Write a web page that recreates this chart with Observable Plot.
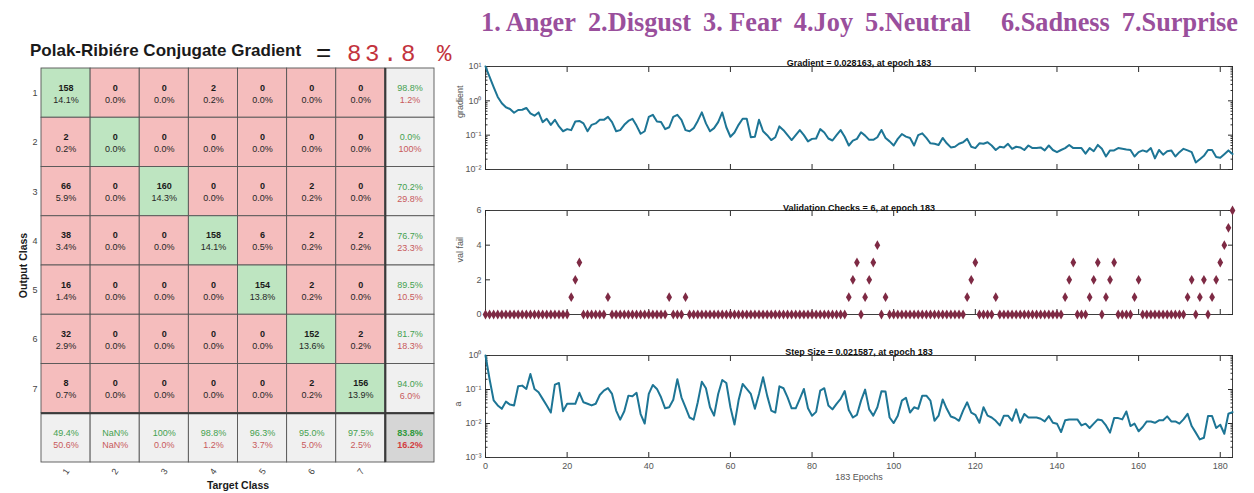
<!DOCTYPE html>
<html>
<head>
<meta charset="utf-8">
<title>Polak-Ribiére Conjugate Gradient</title>
<script src="https://cdn.jsdelivr.net/npm/d3@7"></script>
<script src="https://cdn.jsdelivr.net/npm/@observablehq/plot@0.6"></script>
<style>
  html, body { margin: 0; padding: 0; background: #fff; }
  #page { position: relative; width: 1254px; height: 493px; overflow: hidden; background: #fff;
          font-family: "Liberation Sans", Arial, sans-serif; }
  .block { position: absolute; line-height: 1; white-space: pre; }
  .wrap { position: absolute; }
  .wrap svg { display: block; }
  #legend { position: absolute; left: 481px; top: 8px; display: flex; white-space: pre; line-height: 1;
            font: bold 26.3px "Liberation Serif", "Times New Roman", serif; color: #9a4f9c; }
  #legend span { margin-right: 12px; }
  #legend span.wide { margin-right: 30px; }
</style>
</head>
<body>
<div id="page"></div>
<script>
// ---- class names (header) and matrix tick labels ----
const classLabels = ["1. Anger", "2.Disgust", "3. Fear", "4.Joy", "5.Neutral", "6.Sadness", "7.Surprise"];
const classTicks = ["1", "2", "3", "4", "5", "6", "7"];

// ---- confusion matrix counts: rows = output class, columns = target class ----
const counts = [
  [158, 0,   0,   2,   0,   0,   0],
  [2,   0,   0,   0,   0,   0,   0],
  [66,  0, 160,   0,   0,   2,   0],
  [38,  0,   0, 158,   6,   2,   2],
  [16,  0,   0,   0, 154,   2,   0],
  [32,  0,   0,   0,   0, 152,   2],
  [8,   0,   0,   0,   0,   2, 156]
];

// ---- training record, one value per epoch 0..183 ----
const gradient = [
  10, 5, 2.5, 1.3, 0.85, 0.65, 0.58, 0.45, 0.54, 0.55,
  0.62, 0.43, 0.37, 0.46, 0.24, 0.3, 0.2, 0.28, 0.18, 0.13,
  0.15, 0.14, 0.25, 0.26, 0.22, 0.13, 0.2, 0.22, 0.28, 0.28,
  0.34, 0.24, 0.13, 0.14, 0.2, 0.26, 0.3, 0.19, 0.11, 0.13,
  0.34, 0.39, 0.25, 0.24, 0.15, 0.17, 0.34, 0.39, 0.28, 0.14,
  0.13, 0.16, 0.26, 0.46, 0.22, 0.13, 0.16, 0.24, 0.46, 0.17,
  0.09, 0.12, 0.2, 0.3, 0.3, 0.087, 0.09, 0.28, 0.13, 0.1,
  0.072, 0.087, 0.18, 0.14, 0.1, 0.072, 0.1, 0.14, 0.1, 0.066,
  0.078, 0.08, 0.15, 0.12, 0.08, 0.07, 0.1, 0.14, 0.09, 0.05,
  0.069, 0.078, 0.121, 0.097, 0.073, 0.073, 0.087, 0.142, 0.083, 0.066,
  0.05, 0.078, 0.108, 0.091, 0.083, 0.05, 0.1, 0.113, 0.083, 0.058,
  0.056, 0.052, 0.083, 0.058, 0.044, 0.046, 0.056, 0.062, 0.078, 0.046,
  0.042, 0.058, 0.056, 0.062, 0.05, 0.037, 0.046, 0.044, 0.056, 0.04,
  0.046, 0.044, 0.037, 0.05, 0.042, 0.042, 0.044, 0.036, 0.05, 0.037,
  0.032, 0.037, 0.042, 0.052, 0.042, 0.042, 0.042, 0.029, 0.042, 0.034,
  0.052, 0.04, 0.024, 0.036, 0.036, 0.042, 0.04, 0.038, 0.037, 0.024,
  0.032, 0.036, 0.033, 0.042, 0.021, 0.037, 0.027, 0.034, 0.036, 0.024,
  0.032, 0.04, 0.036, 0.032, 0.016, 0.02, 0.025, 0.037, 0.037, 0.023,
  0.022, 0.028, 0.036, 0.028163
];

const valFail = [
  0, 0, 0, 0, 0, 0, 0, 0, 0, 0,
  0, 0, 0, 0, 0, 0, 0, 0, 0, 0,
  0, 1, 2, 3, 0, 0, 0, 0, 0, 0,
  1, 0, 0, 0, 0, 0, 0, 0, 0, 0,
  0, 0, 0, 0, 0, 1, 0, 0, 0, 1,
  0, 0, 0, 0, 0, 0, 0, 0, 0, 0,
  0, 0, 0, 0, 0, 0, 0, 0, 0, 0,
  0, 0, 0, 0, 0, 0, 0, 0, 0, 0,
  0, 0, 0, 0, 0, 0, 0, 0, 0, 1,
  2, 3, 0, 1, 2, 3, 4, 0, 1, 0,
  0, 0, 0, 0, 0, 0, 0, 0, 0, 0,
  0, 0, 0, 0, 0, 0, 0, 0, 1, 2,
  3, 0, 0, 0, 0, 1, 0, 0, 0, 0,
  0, 0, 0, 0, 0, 0, 0, 0, 0, 0,
  0, 0, 1, 2, 3, 0, 0, 0, 1, 2,
  3, 0, 1, 2, 3, 0, 0, 0, 0, 1,
  2, 0, 0, 0, 0, 0, 0, 0, 0, 0,
  0, 0, 1, 2, 0, 1, 2, 0, 1, 2,
  3, 4, 5, 6
];

const stepSize = [
  1, 0.2, 0.048, 0.034, 0.027, 0.044, 0.036, 0.034, 0.124, 0.13,
  0.104, 0.285, 0.104, 0.083, 0.053, 0.034, 0.021, 0.139, 0.155, 0.023,
  0.038, 0.038, 0.038, 0.08, 0.042, 0.038, 0.034, 0.038, 0.069, 0.093,
  0.11, 0.074, 0.024, 0.013, 0.023, 0.066, 0.063, 0.08, 0.019, 0.01,
  0.074, 0.136, 0.104, 0.059, 0.028, 0.03, 0.05, 0.2, 0.059, 0.03,
  0.015, 0.013, 0.042, 0.17, 0.109, 0.03, 0.017, 0.074, 0.19, 0.155,
  0.03, 0.0093, 0.048, 0.145, 0.104, 0.074, 0.027, 0.074, 0.23, 0.066,
  0.024, 0.021, 0.124, 0.109, 0.059, 0.028, 0.028, 0.053, 0.104, 0.028,
  0.017, 0.022, 0.093, 0.109, 0.034, 0.026, 0.038, 0.053, 0.09, 0.025,
  0.015, 0.018, 0.047, 0.099, 0.026, 0.017, 0.03, 0.089, 0.087, 0.015,
  0.0103, 0.017, 0.047, 0.057, 0.021, 0.03, 0.027, 0.066, 0.066, 0.047,
  0.012, 0.017, 0.051, 0.027, 0.016, 0.0145, 0.012, 0.024, 0.042, 0.021,
  0.018, 0.0105, 0.03, 0.017, 0.015, 0.012, 0.0088, 0.017, 0.017, 0.012,
  0.026, 0.0105, 0.019, 0.015, 0.015, 0.015, 0.0138, 0.0115, 0.0165, 0.0105,
  0.0099, 0.0056, 0.0124, 0.0132, 0.0132, 0.0132, 0.0088, 0.0099, 0.0074, 0.0099,
  0.0132, 0.0124, 0.0088, 0.0054, 0.0144, 0.0144, 0.0132, 0.0226, 0.0084, 0.0099,
  0.0059, 0.0079, 0.0115, 0.0115, 0.0105, 0.0124, 0.0124, 0.0162, 0.0115, 0.0115,
  0.0099, 0.0132, 0.0193, 0.0084, 0.0054, 0.0034, 0.0038, 0.0165, 0.0165, 0.0074,
  0.0092, 0.005, 0.0193, 0.021587
];

// ---------------------------------------------------------------------------
const page = document.getElementById("page");
const SANS = "'Liberation Sans', Arial, Helvetica, sans-serif";

function place(node, left, top, width) {
  const w = document.createElement("div");
  w.className = "wrap";
  w.style.left = left + "px";
  w.style.top = top + "px";
  if (width) w.style.width = width + "px";
  w.appendChild(node);
  page.appendChild(w);
}
function textBlock(str, left, top, css) {
  const d = document.createElement("div");
  d.className = "block";
  d.textContent = str;
  Object.assign(d.style, {left: left + "px", top: top + "px"}, css);
  page.appendChild(d);
}

// ---- confusion matrix ----
const K = counts.length;
const total = d3.sum(counts, (row) => d3.sum(row));
const round1 = (v) => Math.round(v * 10 + 1e-7) / 10;
const pctText = (v) => Number.isNaN(v) ? "NaN%" : v === 100 ? "100%" : v.toFixed(1) + "%";

const inner = [];
counts.forEach((row, r) => row.forEach((n, c) => inner.push({
  c, r, fill: r === c ? "#bee5c1" : "#f5bdbd",
  top: String(n), bottom: pctText(round1(n / total * 100))
})));

const summary = [];
counts.forEach((row, r) => {
  const ok = round1(row[r] / d3.sum(row) * 100);
  summary.push({c: K, r, fill: "#f0f0f0", top: pctText(ok), bottom: pctText(100 - ok)});
});
d3.range(K).forEach((c) => {
  const colSum = d3.sum(counts, (row) => row[c]);
  const ok = colSum ? round1(counts[c][c] / colSum * 100) : NaN;
  summary.push({c, r: K, fill: "#f0f0f0", top: pctText(ok), bottom: pctText(100 - ok)});
});
const overall = round1(d3.sum(d3.range(K), (i) => counts[i][i]) / total * 100);
const corner = [{c: K, r: K, fill: "#d6d6d6", top: pctText(overall), bottom: pctText(100 - overall)}];
const allCells = [...inner, ...summary, ...corner];

const cx = (d) => d.c + 0.5, cy = (d) => d.r + 0.5;
const matrix = Plot.plot({
  width: 450, height: 493,
  marginLeft: 41, marginRight: 16, marginTop: 68, marginBottom: 31,
  x: {domain: [0, K + 1], axis: null},
  y: {domain: [0, K + 1], reverse: true, axis: null},
  color: {type: "identity"},
  style: {fontFamily: SANS, fontSize: "9px", color: "#1a1a1a", background: "none", overflow: "visible"},
  marks: [
    Plot.rect(allCells, {x1: "c", x2: (d) => d.c + 1, y1: "r", y2: (d) => d.r + 1, fill: "fill", stroke: "#555", strokeWidth: 0.9}),
    Plot.ruleX([K], {y1: 0, y2: K + 1, stroke: "#3a3a3a", strokeWidth: 2}),
    Plot.ruleY([K], {x1: 0, x2: K + 1, stroke: "#3a3a3a", strokeWidth: 2}),
    Plot.text(inner, {x: cx, y: cy, text: "top", dy: -5.5, fontWeight: "bold", fill: "#1a1a1a"}),
    Plot.text(inner, {x: cx, y: cy, text: "bottom", dy: 6.5, fill: "#262626"}),
    Plot.text(summary, {x: cx, y: cy, text: "top", dy: -5, fill: "#45a14f"}),
    Plot.text(summary, {x: cx, y: cy, text: "bottom", dy: 7, fill: "#c85a5c"}),
    Plot.text(corner, {x: cx, y: cy, text: "top", dy: -5, fill: "#2f9a3c", fontWeight: "bold"}),
    Plot.text(corner, {x: cx, y: cy, text: "bottom", dy: 7, fill: "#d23c3f", fontWeight: "bold"}),
    // row and column tick labels
    Plot.text(classTicks, {x: 0, y: (d, i) => i + 0.5, text: (d) => d, dx: -4, textAnchor: "end", fill: "#444"}),
    Plot.text(classTicks, {x: (d, i) => i + 0.5, y: K + 1, text: (d) => d, dy: 9, rotate: -55, fill: "#444"}),
    // axis titles
    Plot.text(["Target Class"], {x: (K + 1) / 2, y: K + 1, text: (d) => d, dy: 23, fontWeight: "bold", fontSize: 10.5, fill: "#1a1a1a"}),
    Plot.text(["Output Class"], {x: 0, y: (K + 1) / 2, text: (d) => d, dx: -18, rotate: -90, fontWeight: "bold", fontSize: 10.5, fill: "#1a1a1a"})
  ]
});
place(matrix, 0, 0, 450);

// ---- title above the matrix ----
textBlock("Polak-Ribiére Conjugate Gradient", 30, 40.5, {font: `bold 17px ${SANS}`, color: "#1a1a1a"});
textBlock("=", 316, 37, {font: `26px ${SANS}`, color: "#1a1a1a"});
textBlock(overall.toFixed(1) + " %", 347, 40.5, {font: "24px 'Liberation Mono', 'DejaVu Sans Mono', monospace", letterSpacing: "3.6px", color: "#c3333d"});

// ---- class legend across the top ----
const legend = document.createElement("div");
legend.id = "legend";
classLabels.forEach((t, i) => {
  const s = document.createElement("span");
  s.textContent = t;
  if (i === 4) s.className = "wide";
  legend.appendChild(s);
});
page.appendChild(legend);

// ---- training record panels ----
const lastEpoch = gradient.length - 1;
const epochTicks = d3.range(0, lastEpoch, 20);
const supMap = {"-": "⁻", "0": "⁰", "1": "¹", "2": "²", "3": "³", "4": "⁴", "5": "⁵", "6": "⁶", "7": "⁷", "8": "⁸", "9": "⁹"};
const pow10 = (v) => "10" + String(Math.round(Math.log10(v))).replace(/[-0-9]/g, (ch) => supMap[ch]);
const decades = (lo, hi) => d3.range(lo, hi + 1).map((e) => 10 ** e);
const minorDecades = (lo, hi) => d3.range(lo, hi).flatMap((e) => d3.range(2, 10).map((m) => m * 10 ** e));
const AX = "#2b2b2b", LBL = "#555";

function panel({height, marginBottom, y, major, minor, tickFormat, title, titleDy, ylabel, ylabelDx, ylabelDy = 0, xLabels, marks}) {
  const tick = (data, anchor, size) => Plot.axisY(data, {anchor, tickSize: size, fill: "none", stroke: AX, label: null});
  return Plot.plot({
    width: 800, height, marginLeft: 45, marginRight: 8, marginTop: 20, marginBottom,
    x: {domain: [0, lastEpoch], label: null},
    y: {...y, label: null},
    style: {fontFamily: SANS, fontSize: "9px", color: AX, background: "none", overflow: "visible"},
    marks: [
      Plot.frame({stroke: AX, strokeWidth: 0.9}),
      Plot.axisX(epochTicks, {anchor: "bottom", tickSize: -5, fill: "none", stroke: AX, label: null}),
      Plot.axisX(epochTicks, {anchor: "top", tickSize: -5, fill: "none", stroke: AX, label: null}),
      tick(major, "left", -5),
      tick(major, "right", -5),
      minor ? tick(minor, "left", -2.5) : null,
      minor ? tick(minor, "right", -2.5) : null,
      Plot.axisY(major, {anchor: "left", tickSize: 0, tickPadding: 4, tickFormat, fill: LBL, label: null}),
      xLabels ? Plot.axisX(epochTicks, {anchor: "bottom", tickSize: 0, tickPadding: 5.5, fill: LBL, label: null}) : null,
      xLabels ? Plot.text([`${lastEpoch} Epochs`], {frameAnchor: "bottom", text: (d) => d, dy: 22, fill: LBL}) : null,
      Plot.text([title], {frameAnchor: "top", text: (d) => d, dy: titleDy, fontWeight: "bold", fill: "#111"}),
      Plot.text([ylabel], {frameAnchor: "left", text: (d) => d, rotate: -90, dx: ylabelDx, dy: ylabelDy, fill: LBL}),
      ...marks
    ]
  });
}

const LINE = "#1d7595";

place(panel({
  height: 134, marginBottom: 11,
  y: {type: "log", domain: [0.01, 10]},
  major: decades(-2, 1), minor: minorDecades(-2, 1), tickFormat: pow10,
  title: `Gradient = ${gradient[lastEpoch]}, at epoch ${lastEpoch}`, titleDy: -7,
  ylabel: "gradient", ylabelDx: -25,
  marks: [Plot.line(gradient, {x: (d, i) => i, y: (d) => d, stroke: LINE, strokeWidth: 2})]
}), 440, 46, 800);

place(panel({
  height: 135, marginBottom: 11,
  y: {domain: [0, 6]},
  major: [0, 2, 4, 6], minor: null, tickFormat: (d) => String(d),
  title: `Validation Checks = ${valFail[lastEpoch]}, at epoch ${lastEpoch}`, titleDy: -6,
  ylabel: "val fail", ylabelDx: -25,
  marks: [Plot.dot(valFail, {x: (d, i) => i, y: (d) => d, symbol: "diamond", r: 3, fill: "#7e2a44", stroke: "none"})]
}), 440, 190, 800);

place(panel({
  height: 158, marginBottom: 36,
  y: {type: "log", domain: [0.001, 1]},
  major: decades(-3, 0), minor: minorDecades(-3, 0), tickFormat: pow10,
  title: `Step Size = ${stepSize[lastEpoch]}, at epoch ${lastEpoch}`, titleDy: -6.5,
  ylabel: "a", ylabelDx: -27, xLabels: true,
  marks: [Plot.line(stepSize, {x: (d, i) => i, y: (d) => d, stroke: LINE, strokeWidth: 2})]
}), 440, 335, 800);
</script>
</body>
</html>
